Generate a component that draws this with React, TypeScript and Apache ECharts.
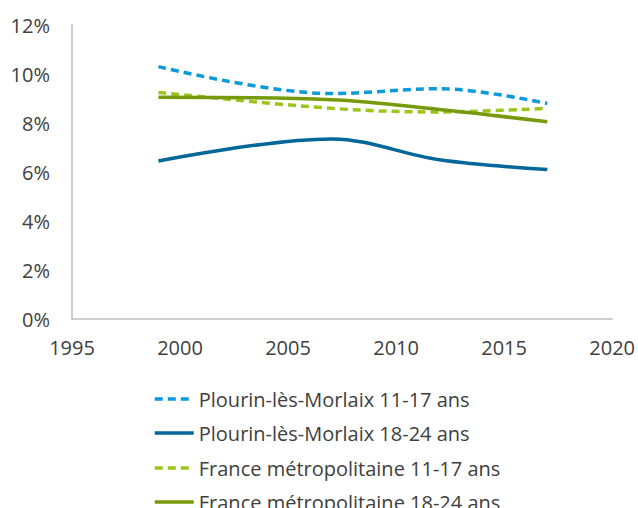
import React, { useEffect, useRef } from "react";
import * as echarts from "echarts";

const years = [1999, 2007, 2012, 2017];
const seriesNames = [
  "Plourin-lès-Morlaix 11-17 ans",
  "Plourin-lès-Morlaix 18-24 ans",
  "France métropolitaine 11-17 ans",
  "France métropolitaine 18-24 ans",
];
const plourin1117 = [10.3, 9.2, 9.4, 8.8];
const plourin1824 = [6.45, 7.35, 6.5, 6.1];
const france1117 = [9.25, 8.6, 8.45, 8.6];
const france1824 = [9.05, 8.95, 8.55, 8.05];
const xTicks = [1995, 2000, 2005, 2010, 2015, 2020];
const yTicks = [0, 2, 4, 6, 8, 10, 12];

const colors = ["#0a9ad9", "#00679a", "#9cc51a", "#779a0c"];
const dashed = [true, false, true, false];

export default function App() {
  const ref = useRef<HTMLDivElement>(null);
  useEffect(() => {
    if (!ref.current) return;
    const chart = echarts.init(ref.current, undefined, { renderer: "svg" });
    const allData = [plourin1117, plourin1824, france1117, france1824];
    const font = "'Open Sans', 'Noto Sans', sans-serif";
    const legendCenters = [399, 433, 468, 502];
    chart.setOption({
      animation: false,
      textStyle: { fontFamily: font },
      grid: { left: 72, right: 25, top: 25, bottom: 189, containLabel: false },
      xAxis: {
        type: "value",
        min: xTicks[0],
        max: xTicks[xTicks.length - 1],
        interval: 5,
        axisLine: { show: true, lineStyle: { color: "#bfbfbf", width: 1.5 } },
        axisTick: { show: false },
        splitLine: { show: false },
        axisLabel: {
          color: "#404040",
          fontSize: 20,
          margin: 18,
          fontFamily: font,
          formatter: (v: number) => String(v),
        },
      },
      yAxis: {
        type: "value",
        min: yTicks[0],
        max: yTicks[yTicks.length - 1],
        interval: 2,
        axisLine: { show: true, lineStyle: { color: "#bfbfbf", width: 1.5 } },
        axisTick: { show: false },
        splitLine: { show: false },
        axisLabel: {
          color: "#404040",
          fontSize: 20,
          margin: 22,
          fontFamily: font,
          formatter: "{value}%",
        },
      },
      legend: seriesNames.map((name, i) => ({
        orient: "horizontal",
        left: 153,
        top: legendCenters[i] - 10,
        padding: 0,
        itemWidth: 39,
        itemHeight: 20,
        itemGap: 0,
        itemStyle: { opacity: 0 },
        lineStyle: {
          opacity: 1,
          width: 3.5,
          color: colors[i],
          type: dashed[i] ? [8, 5] : "solid",
        },
        textStyle: { color: "#404040", fontSize: 20, fontFamily: font, lineHeight: 20 },
        data: [name],
      })),
      series: seriesNames.map((name, i) => ({
        name,
        type: "line",
        smooth: 0.35,
        symbol: "none",
        data: years.map((y, j) => [y, allData[i][j]]),
        lineStyle: {
          color: colors[i],
          width: 3.5,
          type: dashed[i] ? [8, 5] : "solid",
        },
        itemStyle: { color: colors[i] },
      })),
    });
    return () => chart.dispose();
  }, []);
  return (
    <div
      ref={ref}
      style={{ position: "absolute", left: 0, top: 0, width: 638, height: 508, overflow: "hidden" }}
    />
  );
}
